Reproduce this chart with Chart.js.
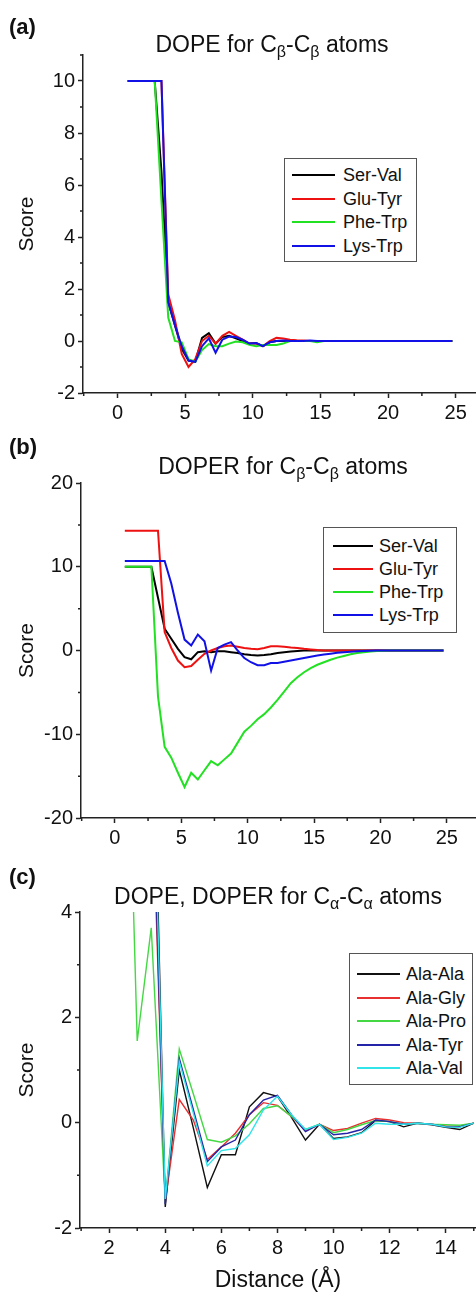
<!DOCTYPE html>
<html>
<head>
<meta charset="utf-8">
<script src="https://cdn.jsdelivr.net/npm/chart.js"></script>
<style>
  body { margin: 0; background: #fff; font-family: "Liberation Sans", Arial, sans-serif; color: #111; }
  #page { position: relative; width: 476px; height: 1293px; overflow: hidden; }
  canvas { position: absolute; left: 0; }
  .tag { position: absolute; left: 9px; font-weight: bold; font-size: 22px; line-height: 22px; }
  .ttl { position: absolute; font-size: 23px; line-height: 23px; white-space: nowrap; transform: translateX(-50%); }
  .ttl sub { font-size: 16px; vertical-align: -5px; line-height: 0; }
  .legend { position: absolute; border: 1.5px solid #555; box-sizing: border-box; background: #fff; }
  .legend .row { position: absolute; left: 0; width: 100%; height: 22px; }
  .legend .lab { position: absolute; top: 0; line-height: 22px; font-size: 18px; }
</style>
</head>
<body>
<div id="page">
  <canvas id="cA" width="476" height="430" style="top:0px"></canvas>
  <canvas id="cB" width="476" height="425" style="top:430px"></canvas>
  <canvas id="cC" width="476" height="438" style="top:855px"></canvas>

  <div class="tag" style="top:16px">(a)</div>
  <div class="ttl" style="left:272px;top:33px">DOPE for C<sub>β</sub>-C<sub>β</sub> atoms</div>
  <div class="legend" id="lgA" style="left:284px;top:158px;width:133px;height:104px"></div>

  <div class="tag" style="top:436px">(b)</div>
  <div class="ttl" style="left:283px;top:455px">DOPER for C<sub>β</sub>-C<sub>β</sub> atoms</div>
  <div class="legend" id="lgB" style="left:323px;top:527px;width:134px;height:106px"></div>

  <div class="tag" style="top:866px">(c)</div>
  <div class="ttl" style="left:278px;top:885px">DOPE, DOPER for C<sub>α</sub>-C<sub>α</sub> atoms</div>
  <div class="legend" id="lgC" style="left:349px;top:953px;width:124px;height:132px"></div>
</div>
<script>
// distance bins (Å) for panels (a) and (b)
const distAB = [0.75, 1.25, 1.75, 2.25, 2.75, 3.25, 3.75, 4.25, 4.75, 5.25, 5.75, 6.25, 6.75, 7.25, 7.75, 8.25, 8.75, 9.25, 9.75, 10.25,
  10.75, 11.25, 11.75, 12.25, 12.75, 13.25, 13.75, 14.25, 14.75, 15.25, 15.75, 16.25, 16.75, 17.25, 17.75, 18.25, 18.75, 19.25, 19.75, 20.25,
  20.75, 21.25, 21.75, 22.25, 22.75, 23.25, 23.75, 24.25, 24.75];

// (a) DOPE, Cb-Cb
const pairsA = ["Ser-Val", "Glu-Tyr", "Phe-Trp", "Lys-Trp"];
const serValA = [10, 10, 10, 10, 10, 6.5, 1.5, 0.6, -0.3, -0.75, -0.8, 0.12, 0.3, -0.1, 0.15, 0.2, 0.1, 0, -0.1, -0.08,
  -0.2, -0.05, 0, 0, 0.02, 0, 0, 0, 0, 0, 0, 0, 0, 0, 0, 0, 0, 0, 0, 0,
  0, 0, 0, 0, 0, 0, 0, 0, 0];
const gluTyrA = [10, 10, 10, 10, 10, 10, 1.8, 0.8, -0.5, -1.0, -0.7, 0.0, 0.2, -0.1, 0.2, 0.35, 0.2, 0.05, -0.1, -0.1,
  -0.2, 0, 0.12, 0.1, 0.05, 0.03, 0.02, 0, 0, 0, 0, 0, 0, 0, 0, 0, 0, 0, 0, 0,
  0, 0, 0, 0, 0, 0, 0, 0, 0];
const pheTrpA = [10, 10, 10, 10, 10, 5.4, 0.9, 0.0, -0.05, -0.7, -0.8, -0.35, -0.12, -0.2, -0.2, -0.1, -0.02, -0.05, -0.15, -0.2,
  -0.15, -0.15, -0.15, -0.1, 0, 0, 0, 0, -0.05, 0, 0, 0, 0, 0, 0, 0, 0, 0, 0, 0,
  0, 0, 0, 0, 0, 0, 0, 0, 0];
const lysTrpA = [10, 10, 10, 10, 10, 10, 1.5, 0.6, -0.2, -0.75, -0.8, -0.2, 0.1, -0.45, 0.05, 0.17, 0.15, 0.05, -0.1, -0.08,
  -0.2, -0.05, 0, 0.02, 0, 0, 0, 0.02, 0, 0, 0, 0, 0, 0, 0, 0, 0, 0, 0, 0,
  0, 0, 0, 0, 0, 0, 0, 0, 0];

// (b) DOPER, Cb-Cb
const serValB = [10, 10, 10, 10, 10, 6.3, 2.6, 1.4, 0.2, -0.8, -1.05, -0.2, -0.1, -0.2, -0.1, -0.1, -0.2, -0.3, -0.45, -0.55,
  -0.6, -0.55, -0.45, -0.3, -0.2, -0.12, -0.05, 0, 0, 0, 0, 0, 0, 0, 0, 0, 0, 0, 0, 0,
  0, 0, 0, 0, 0, 0, 0, 0, 0];
const gluTyrB = [14.3, 14.3, 14.3, 14.3, 14.3, 14.3, 2.2, 0.3, -1.2, -2.0, -1.85, -1.1, -0.4, 0.0, 0.3, 0.5, 0.6, 0.45, 0.3, 0.2,
  0.15, 0.3, 0.5, 0.5, 0.45, 0.35, 0.3, 0.2, 0.12, 0.05, 0, 0, 0, 0, 0, 0, 0, 0, 0, 0,
  0, 0, 0, 0, 0, 0, 0, 0, 0];
const pheTrpB = [10, 10, 10, 10, 10, -5.5, -11.5, -12.8, -14.6, -16.3, -14.6, -15.4, -14.3, -13.2, -13.7, -13.0, -12.3, -11.0, -9.7, -9.0,
  -8.2, -7.6, -6.8, -5.9, -4.9, -3.9, -3.2, -2.6, -2.1, -1.7, -1.4, -1.1, -0.85, -0.65, -0.45, -0.3, -0.2, -0.12, -0.06, -0.02,
  0, 0, 0, 0, 0, 0, 0, 0, 0];
const lysTrpB = [10.7, 10.7, 10.7, 10.7, 10.7, 10.7, 10.7, 8.0, 4.5, 1.3, 0.6, 1.9, 1.1, -2.4, 0.3, 0.7, 1.0, 0.0, -0.9, -1.4,
  -1.75, -1.75, -1.5, -1.5, -1.35, -1.2, -1.05, -0.9, -0.75, -0.6, -0.48, -0.38, -0.28, -0.2, -0.14, -0.09, -0.05, -0.02, 0, 0,
  0, 0, 0, 0, 0, 0, 0, 0, 0];

// (c) DOPE, DOPER, Ca-Ca
const distC = [2.5, 3, 3.5, 4, 4.5, 5, 5.5, 6, 6.5, 7, 7.5, 8, 8.5, 9, 9.5, 10, 10.5, 11, 11.5, 12, 12.5, 13, 13.5, 14, 14.5, 15];
const pairsC = ["Ala-Ala", "Ala-Gly", "Ala-Pro", "Ala-Tyr", "Ala-Val"];
const alaAla = [null, null, 9.5, -1.6, 1.0, -0.1, -1.23, -0.61, -0.61, 0.3, 0.57, 0.5, 0.1, -0.33, -0.03, -0.3, -0.27, -0.19, 0.04, 0.02, -0.08, -0.01, -0.04, -0.09, -0.13, -0.01];
const alaGly = [null, null, 7.0, -1.5, 0.44, 0.05, -0.7, -0.46, -0.2, 0.15, 0.38, 0.33, 0.12, -0.15, -0.03, -0.15, -0.11, -0.01, 0.08, 0.05, 0.0, -0.01, -0.03, -0.06, -0.07, -0.01];
const alaPro = [11, 1.55, 3.7, -1.5, 1.4, 0.55, -0.32, -0.37, -0.25, -0.02, 0.27, 0.32, 0.12, -0.13, -0.03, -0.19, -0.13, -0.04, 0.04, 0.02, -0.03, -0.01, -0.03, -0.04, -0.05, -0.01];
const alaTyr = [null, null, 7.5, -1.55, 1.22, 0.25, -0.74, -0.46, -0.33, 0.15, 0.43, 0.52, 0.15, -0.17, -0.03, -0.23, -0.2, -0.13, 0.05, 0.02, -0.03, -0.01, -0.03, -0.08, -0.08, -0.01];
const alaVal = [null, null, 8.5, -1.45, 1.16, 0.18, -0.82, -0.53, -0.49, -0.23, 0.24, 0.5, 0.15, -0.13, -0.03, -0.32, -0.28, -0.2, -0.01, -0.03, -0.03, -0.01, -0.03, -0.08, -0.09, -0.01];

// tick labels
const xTicksAB = [0, 5, 10, 15, 20, 25];
const xMinorAB = [-2.5, 2.5, 7.5, 12.5, 17.5, 22.5];
const yTicksA = [-2, 0, 2, 4, 6, 8, 10];
const yMinorA = [-1, 1, 3, 5, 7, 9, 11];
const yTicksB = [-20, -10, 0, 10, 20];
const yMinorB = [-15, -5, 5, 15];
const xTicksC = [2, 4, 6, 8, 10, 12, 14];
const xMinorC = [1, 3, 5, 7, 9, 11, 13, 15];
const yTicksC = [-2, 0, 2, 4];
const yMinorC = [-1, 1, 3];

const colorsAB = ["#000000", "#ee1111", "#22e022", "#1111e6"];
const colorsC = ["#111111", "#e83030", "#44d844", "#2424a8", "#30e4ea"];

const FONT = "'Liberation Sans', Arial, sans-serif";
const AXIS = "#222";

// short outward minor ticks
const minorTicks = {
  id: 'minorTicks',
  afterDraw(chart, args, opts) {
    const ctx = chart.ctx;
    const xs = chart.scales.x, ys = chart.scales.y;
    ctx.save();
    ctx.strokeStyle = AXIS;
    ctx.lineWidth = 1.5;
    ctx.beginPath();
    (opts.x || []).forEach(v => {
      if (v < xs.min || v > xs.max) return;
      const p = xs.getPixelForValue(v);
      ctx.moveTo(p, xs.top);
      ctx.lineTo(p, xs.top + 3);
    });
    (opts.y || []).forEach(v => {
      if (v < ys.min || v > ys.max) return;
      const p = ys.getPixelForValue(v);
      ctx.moveTo(ys.right, p);
      ctx.lineTo(ys.right - 3, p);
    });
    ctx.stroke();
    ctx.restore();
  }
};

function series(xs, ys) {
  return xs.map((x, i) => ({ x: x, y: ys[i] }));
}

function makeChart(id, cfg) {
  const n = cfg.values.length;
  const datasets = cfg.values.map((vals, i) => ({
    label: cfg.labels[i],
    data: series(cfg.dist, vals),
    borderColor: cfg.colors[i],
    borderWidth: cfg.lineWidth,
    pointRadius: 0,
    tension: 0,
    fill: false,
    order: n - 1 - i
  }));
  return new Chart(document.getElementById(id), {
    type: 'line',
    data: { datasets: datasets },
    plugins: [minorTicks],
    options: {
      responsive: false,
      animation: false,
      events: [],
      layout: { padding: { top: cfg.top, left: 0, right: 0, bottom: 0 } },
      plugins: {
        legend: { display: false },
        tooltip: { enabled: false },
        minorTicks: { x: cfg.xMinor, y: cfg.yMinor }
      },
      scales: {
        x: {
          type: 'linear',
          min: cfg.xMin, max: cfg.xMax,
          afterBuildTicks: s => { s.ticks = cfg.xTicks.map(v => ({ value: v })); },
          afterFit: s => { s.height = cfg.xHeight; },
          grid: { drawOnChartArea: false, drawTicks: true, tickLength: 5, tickColor: AXIS, tickWidth: 1.5 },
          border: { display: true, color: AXIS, width: 1.5 },
          ticks: { color: '#111', padding: 3, maxRotation: 0, font: { family: FONT, size: 20 } },
          title: {
            display: !!cfg.xTitle, text: cfg.xTitle || '', color: '#111',
            font: { family: FONT, size: 23, lineHeight: 1 }, padding: { top: 0, bottom: 1 }
          }
        },
        y: {
          type: 'linear',
          min: cfg.yMin, max: cfg.yMax,
          afterBuildTicks: s => { s.ticks = cfg.yTicks.map(v => ({ value: v })); },
          afterFit: s => { s.width = cfg.yWidth; },
          grid: { drawOnChartArea: false, drawTicks: true, tickLength: 5, tickColor: AXIS, tickWidth: 1.5 },
          border: { display: true, color: AXIS, width: 1.5 },
          ticks: { color: '#111', padding: 3, font: { family: FONT, size: 20 } },
          title: {
            display: true, text: 'Score', color: '#111',
            font: { family: FONT, size: 21, lineHeight: 1.2 }, padding: { top: 15, bottom: 0 }
          }
        }
      }
    }
  });
}

function buildLegend(id, labels, colors, g) {
  const box = document.getElementById(id);
  labels.forEach((lab, i) => {
    const rowTop = Math.round(g.first + i * g.gap - 11);
    const row = document.createElement('div');
    row.className = 'row';
    row.style.top = rowTop + 'px';
    const line = document.createElement('span');
    line.style.cssText = 'position:absolute;top:' + Math.round(11 - g.lw / 2) + 'px;left:' + g.lineX + 'px;width:' + g.len +
      'px;height:' + g.lw + 'px;background:' + colors[i];
    const txt = document.createElement('span');
    txt.className = 'lab';
    txt.style.left = g.textX + 'px';
    txt.textContent = lab;
    row.appendChild(line);
    row.appendChild(txt);
    box.appendChild(row);
  });
}

makeChart('cA', {
  dist: distAB, labels: pairsA, colors: colorsAB, lineWidth: 2,
  values: [serValA, gluTyrA, pheTrpA, lysTrpA],
  xMin: -2.55, xMax: 26.5, yMin: -2, yMax: 11,
  xTicks: xTicksAB, xMinor: xMinorAB, yTicks: yTicksA, yMinor: yMinorA,
  top: 55, xHeight: 37, yWidth: 83
});
makeChart('cB', {
  dist: distAB, labels: pairsA, colors: colorsAB, lineWidth: 2,
  values: [serValB, gluTyrB, pheTrpB, lysTrpB],
  xMin: -2.55, xMax: 27.2, yMin: -20, yMax: 20,
  xTicks: xTicksAB, xMinor: xMinorAB, yTicks: yTicksB, yMinor: yMinorB,
  top: 53, xHeight: 37, yWidth: 81
});
makeChart('cC', {
  dist: distC, labels: pairsC, colors: colorsC, lineWidth: 1.4,
  values: [alaAla, alaGly, alaPro, alaTyr, alaVal],
  xMin: 0.96, xMax: 15.08, yMin: -2, yMax: 4,
  xTicks: xTicksC, xMinor: xMinorC, yTicks: yTicksC, yMinor: yMinorC,
  top: 57, xHeight: 65, yWidth: 80, xTitle: 'Distance (Å)'
});

buildLegend('lgA', pairsA, colorsAB, { first: 16, gap: 23.6, lineX: 7, len: 43, lw: 2, textX: 58 });
buildLegend('lgB', pairsA, colorsAB, { first: 18, gap: 23, lineX: 9, len: 40, lw: 2, textX: 55 });
buildLegend('lgC', pairsC, colorsC, { first: 20, gap: 23.6, lineX: 7, len: 43, lw: 2, textX: 56 });
</script>
</body>
</html>
